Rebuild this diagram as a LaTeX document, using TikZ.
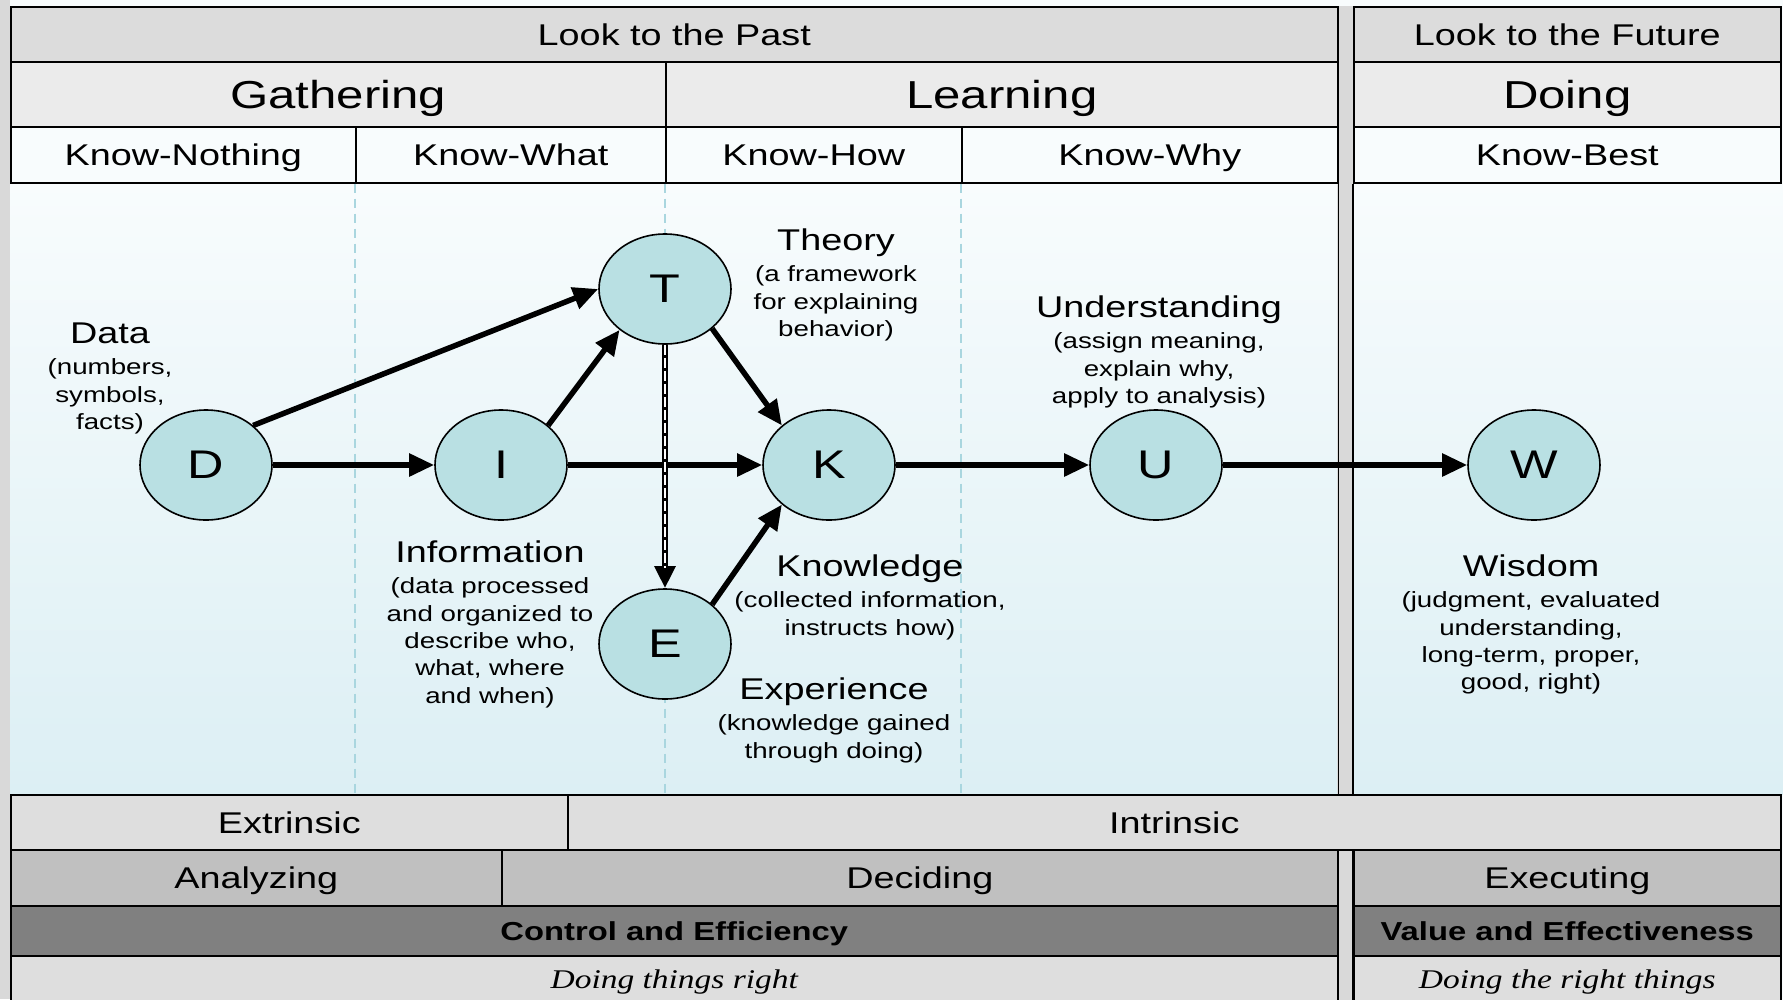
\documentclass[tikz,border=0pt]{standalone}
\usepackage{fontspec}
\setmainfont{Liberation Sans}[FakeStretch=1.26]
\newfontfamily\serifit{Liberation Serif}[FakeStretch=1.24]
\usetikzlibrary{shapes.geometric,arrows.meta}
\definecolor{rowA}{HTML}{DCDCDC}
\definecolor{rowB}{HTML}{EBEBEB}
\definecolor{rowC}{HTML}{F8FCFD}
\definecolor{rowD}{HTML}{DEDEDE}
\definecolor{rowE}{HTML}{C0C0C0}
\definecolor{rowF}{HTML}{808080}
\definecolor{barc}{HTML}{D9D9D9}
\definecolor{bgtop}{HTML}{F8FCFD}
\definecolor{bgbot}{HTML}{DCEFF4}
\definecolor{dashc}{HTML}{A9D6DF}
\definecolor{ellc}{HTML}{B9E0E3}
\newcommand\ttl[1]{{\fontsize{30}{30}\selectfont #1}\\[3.6pt]}
\tikzset{
  cell/.style={draw=black, line width=1.6pt, inner sep=0pt, anchor=north west, align=center},
  fsA/.style={font=\fontsize{30}{36}\selectfont, text height=21.5pt, text depth=0pt},
  fsB/.style={font=\fontsize{39}{46}\selectfont, text height=28pt, text depth=0pt},
  fsC/.style={font=\bfseries\fontsize{26}{31}\selectfont, text height=18.6pt, text depth=0pt},
  fsD/.style={font=\serifit\itshape\fontsize{27}{32}\selectfont, text height=18pt, text depth=0pt},
  ell/.style={ellipse, draw=black, line width=1.6pt, fill=ellc, minimum width=132pt, minimum height=110pt, inner sep=0pt, font=\fontsize{40}{48}\selectfont},
  arr/.style={line width=5.5pt, -{Triangle[length=25pt,width=22pt]}},
  dline/.style={draw=dashc, line width=1.8pt, dash pattern=on 9pt off 6pt},
  lbl/.style={anchor=north, align=center, inner sep=0pt, font=\fontsize{22}{27.3}\selectfont},
}
\begin{document}
\begin{tikzpicture}[x=1pt,y=-1pt]
\useasboundingbox (0,0) rectangle (1783,999);
% background
\fill[bgtop] (0,0) rectangle (1783,999);
\shade[top color=bgtop, bottom color=bgbot] (0,182) rectangle (1783,794);
\fill[barc] (0,0) rectangle (10,999);
\fill[barc] (1337,6) rectangle (1353,1010);
% header cells
\node[cell, fill=rowA, fsA, minimum width=1327pt, minimum height=55pt] (past) at (10,6) {Look to the Past};
\node[cell, fill=rowA, fsA, minimum width=427pt, minimum height=55pt] (future) at (1353,6) {Look to the Future};
\node[cell, fill=rowB, fsB, minimum width=655pt, minimum height=65pt] (gath) at (10,61) {Gathering};
\node[cell, fill=rowB, fsB, minimum width=672pt, minimum height=65pt] (learn) at (665,61) {Learning};
\node[cell, fill=rowB, fsB, minimum width=427pt, minimum height=65pt] (doing) at (1353,61) {Doing};
\node[cell, fill=rowC, fsA, minimum width=345pt, minimum height=56pt] (kn) at (10,126) {Know-Nothing};
\node[cell, fill=rowC, fsA, minimum width=310pt, minimum height=56pt] (kw) at (355,126) {Know-What};
\node[cell, fill=rowC, fsA, minimum width=296pt, minimum height=56pt] (kh) at (665,126) {Know-How};
\node[cell, fill=rowC, fsA, minimum width=376pt, minimum height=56pt] (ky) at (961,126) {Know-Why};
\node[cell, fill=rowC, fsA, minimum width=427pt, minimum height=56pt] (kb) at (1353,126) {Know-Best};
% footer cells
\node[cell, fill=rowD, fsA, minimum width=557pt, minimum height=55pt] (ext) at (10,794) {Extrinsic};
\node[cell, fill=rowD, fsA, minimum width=1213pt, minimum height=55pt] (intr) at (567,794) {Intrinsic};
\node[cell, fill=rowE, fsA, minimum width=491pt, minimum height=56pt] (ana) at (10,849) {Analyzing};
\node[cell, fill=rowE, fsA, minimum width=836pt, minimum height=56pt] (dec) at (501,849) {Deciding};
\node[cell, fill=rowE, fsA, minimum width=427pt, minimum height=56pt] (exe) at (1353,849) {Executing};
\node[cell, fill=rowF, fsC, minimum width=1327pt, minimum height=50pt] (ctl) at (10,905) {Control and Efficiency};
\node[cell, fill=rowF, fsC, minimum width=427pt, minimum height=50pt] (val) at (1353,905) {Value and Effectiveness};
\node[cell, fill=rowD, fsD, minimum width=1327pt, minimum height=47pt] (dtr) at (10,955) {Doing things right};
\node[cell, fill=rowD, fsD, minimum width=427pt, minimum height=47pt] (drt) at (1353,955) {Doing the right things};
% separator bar borders in main area
\draw[line width=1.6pt] (ky.south east) -- (ky.south east |- ext.north);
\draw[line width=1.6pt] (kb.south west) -- (kb.south west |- ext.north);
\draw[line width=1.6pt] (dec.north east) -- (dec.north east |- 0,1010);
\draw[line width=1.6pt] (exe.north west) -- (exe.north west |- 0,1010);
% dashed column guides
\draw[dline] (kw.south west) -- (kw.south west |- ext.north);
\draw[dline] (kh.south west) -- (kh.south west |- ext.north);
\draw[dline] (ky.south west) -- (ky.south west |- ext.north);
% ellipses
\node[ell] (D) at (206,465) {D};
\node[ell] (I) at (501,465) {I};
\node[ell] (T) at (665,289) {T};
\node[ell] (K) at (829,465) {K};
\node[ell] (E) at (665,644) {E};
\node[ell] (U) at (1156,465) {U};
\node[ell] (W) at (1534,465) {W};
% arrows
\draw[arr] (D) -- (I);
\draw[arr] (I) -- (K);
\draw[arr] (K) -- (U);
\draw[arr] (U) -- (W);
\draw[arr] (D.40) -- (T.west);
\draw[arr] (I.40) -- (T.222);
\draw[arr] (T.-40) -- (K.140);
\draw[arr] (E.40) -- (K.220);
\draw[line width=6pt, -{Triangle[length=22pt,width=20pt]}] (T) -- (E);
\draw[white, line width=2pt, dash pattern=on 10pt off 3pt, shorten >=20pt] (T.south) -- (E.north);
% labels
\node[lbl] (dataL) at (110,323) {\ttl{Data}(numbers,\\symbols,\\facts)};
\node[lbl] (theoL) at (836,229) {\ttl{Theory}(a framework\\for explaining\\behavior)};
\node[lbl] (undL) at (1159,296) {\ttl{Understanding}(assign meaning,\\explain why,\\apply to analysis)};
\node[lbl] (infL) at (490,541) {\ttl{Information}(data processed\\and organized to\\describe who,\\what, where\\and when)};
\node[lbl] (knoL) at (870,555) {\ttl{Knowledge}(collected information,\\instructs how)};
\node[lbl] (expL) at (834,678) {\ttl{Experience}(knowledge gained\\through doing)};
\node[lbl] (wisL) at (1531,555) {\ttl{Wisdom}(judgment, evaluated\\understanding,\\long-term, proper,\\good, right)};
\end{tikzpicture}
\end{document}
